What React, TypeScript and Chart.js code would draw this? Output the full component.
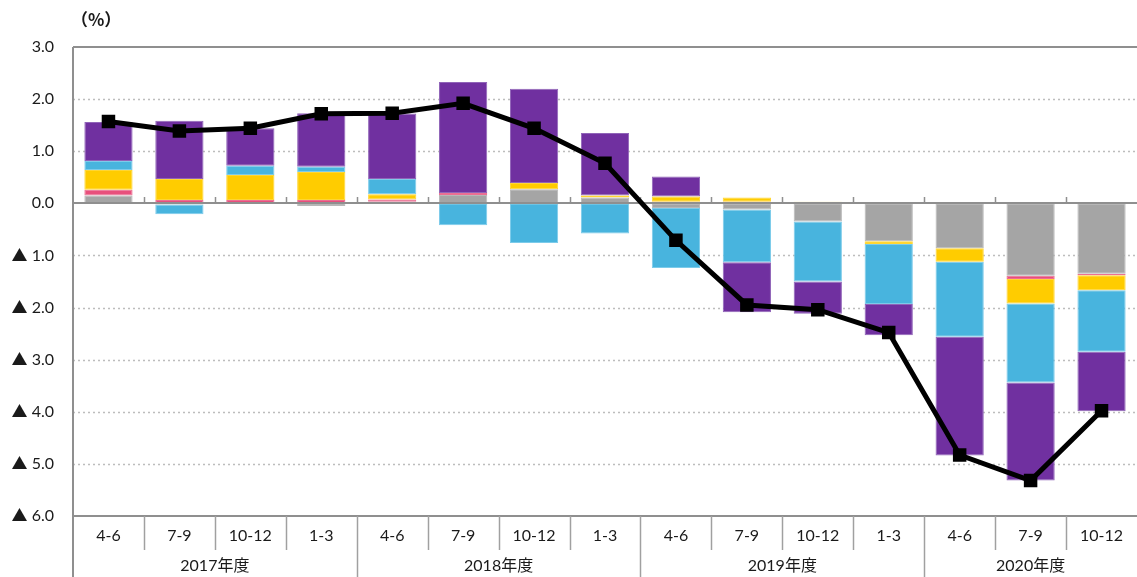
import React, { useEffect, useRef } from 'react';
import { Chart, registerables } from 'chart.js';

Chart.register(...registerables);

const quarters = ['4-6', '7-9', '10-12', '1-3', '4-6', '7-9', '10-12', '1-3', '4-6', '7-9', '10-12', '1-3', '4-6', '7-9', '10-12'];
const fiscalYears = ['2017年度', '2018年度', '2019年度', '2020年度'];
const quartersPerYear = [4, 4, 4, 3];

const grayValues = [0.15, -0.02, 0.0, -0.05, 0.03, 0.16, 0.27, 0.11, -0.09, -0.12, -0.35, -0.73, -0.86, -1.39, -1.35];
const pinkValues = [0.11, 0.065, 0.065, 0.065, 0.045, 0.04, 0.0, 0.0, 0.03, 0.03, 0.02, 0.01, 0.0, -0.06, -0.03];
const yellowValues = [0.38, 0.4, 0.48, 0.535, 0.1, 0.0, 0.12, 0.04, 0.1, 0.08, 0.01, -0.05, -0.26, -0.47, -0.29];
const blueValues = [0.17, -0.19, 0.175, 0.1, 0.29, -0.42, -0.76, -0.58, -1.15, -1.01, -1.15, -1.15, -1.44, -1.52, -1.18];
const purpleValues = [0.75, 1.12, 0.72, 1.03, 1.26, 2.13, 1.81, 1.2, 0.385, -0.96, -0.62, -0.6, -2.28, -1.88, -1.14];
const totalValues = [1.57, 1.39, 1.44, 1.72, 1.73, 1.92, 1.44, 0.77, -0.71, -1.95, -2.04, -2.48, -4.83, -5.32, -3.98];

const Y_MIN = -6;
const Y_MAX = 3;
const unitLabel = '（%）';

const FONT = 'Lato, "Noto Sans CJK JP", "Noto Sans", sans-serif';
const TEXT_COLOR = '#1a1a1a';
const AXIS_COLOR = '#8f8f8f';
const GRID_COLOR = '#bdbdbd';

const framePlugin = {
  id: 'frame',
  beforeDatasetsDraw(chart: any) {
    const { ctx, chartArea, scales } = chart;
    const y = scales.y;
    ctx.save();
    ctx.strokeStyle = GRID_COLOR;
    ctx.lineWidth = 1.5;
    ctx.setLineDash([2, 3]);
    for (let v = Y_MIN + 1; v < Y_MAX; v++) {
      if (v === 0) continue;
      const py = Math.round(y.getPixelForValue(v)) + 0.5;
      ctx.beginPath();
      ctx.moveTo(chartArea.left, py);
      ctx.lineTo(chartArea.right, py);
      ctx.stroke();
    }
    ctx.setLineDash([]);
    ctx.strokeStyle = AXIS_COLOR;
    ctx.lineWidth = 2;
    [Y_MAX, Y_MIN].forEach((v) => {
      const py = Math.round(y.getPixelForValue(v));
      ctx.beginPath();
      ctx.moveTo(chartArea.left, py);
      ctx.lineTo(chartArea.right, py);
      ctx.stroke();
    });
    ctx.restore();
  },
  afterDatasetDraw(chart: any, args: any) {
    // after the last bar dataset is drawn (gray, index 0), before the line
    if (args.index !== 0) return;
    const { ctx, chartArea, scales } = chart;
    const y = scales.y;
    const x = scales.x;
    ctx.save();
    ctx.strokeStyle = AXIS_COLOR;
    ctx.lineWidth = 2;
    const zy = Math.round(y.getPixelForValue(0));
    ctx.beginPath();
    ctx.moveTo(chartArea.left, zy);
    ctx.lineTo(chartArea.right, zy);
    ctx.stroke();
    const half = (x.getPixelForValue(1) - x.getPixelForValue(0)) / 2;
    ctx.lineWidth = 1.5;
    for (let i = 1; i < quarters.length; i++) {
      const px = Math.round(x.getPixelForValue(i) - half) + 0.5;
      ctx.beginPath();
      ctx.moveTo(px, zy);
      ctx.lineTo(px, zy - 6);
      ctx.stroke();
    }
    ctx.restore();
  },
  afterDraw(chart: any) {
    const { ctx, chartArea, scales, height } = chart;
    const x = scales.x;
    const half = (x.getPixelForValue(1) - x.getPixelForValue(0)) / 2;
    const base = chartArea.bottom;
    ctx.save();
    ctx.strokeStyle = AXIS_COLOR;
    ctx.lineWidth = 2;
    ctx.beginPath();
    ctx.moveTo(chartArea.left, chartArea.top);
    ctx.lineTo(chartArea.left, height);
    ctx.stroke();
    const yearEnds: number[] = [];
    let acc = 0;
    quartersPerYear.forEach((n) => {
      acc += n;
      yearEnds.push(acc);
    });
    ctx.strokeStyle = '#a0a0a0';
    ctx.lineWidth = 1.5;
    for (let i = 1; i < quarters.length; i++) {
      const px = Math.round(x.getPixelForValue(i) - half) + 0.5;
      const isYear = yearEnds.includes(i);
      ctx.beginPath();
      ctx.moveTo(px, base);
      ctx.lineTo(px, isYear ? height : base + 34);
      ctx.stroke();
    }
    ctx.fillStyle = TEXT_COLOR;
    ctx.font = `16px ${FONT}`;
    ctx.textAlign = 'center';
    ctx.textBaseline = 'middle';
    quarters.forEach((q, i) => {
      ctx.fillText(q, x.getPixelForValue(i), base + 20);
    });
    let start = 0;
    fiscalYears.forEach((label, k) => {
      const n = quartersPerYear[k];
      const first = x.getPixelForValue(start) - half;
      const last = x.getPixelForValue(start + n - 1) + half;
      ctx.fillText(label, (first + last) / 2, base + 50);
      start += n;
    });
    ctx.textAlign = 'left';
    ctx.font = `bold 17px "Noto Sans CJK JP", sans-serif`;
    ctx.fillText(unitLabel, chartArea.left - 2, 20);
    ctx.restore();
  },
};

export default function App() {
  const canvasRef = useRef<HTMLCanvasElement | null>(null);

  useEffect(() => {
    document.body.style.margin = '0';
    const canvas = canvasRef.current;
    if (!canvas) return;
    const bar = (label: string, data: number[], color: string, edge: string) => ({
      type: 'bar' as const,
      label,
      data,
      backgroundColor: color,
      borderColor: edge,
      borderWidth: 1,
      borderSkipped: false,
      barPercentage: 0.68,
      categoryPercentage: 1,
      order: 1,
      stack: 'contrib',
    });
    const chart = new Chart(canvas, {
      type: 'bar',
      data: {
        labels: quarters,
        datasets: [
          bar('gray', grayValues, '#a5a5a5', '#b8b8b8'),
          bar('pink', pinkValues, '#e8507c', '#ec6f93'),
          bar('yellow', yellowValues, '#ffcc00', '#ffd633'),
          bar('blue', blueValues, '#48b4de', '#7ccbea'),
          bar('purple', purpleValues, '#7030a0', '#9064b8'),
          {
            type: 'line' as const,
            label: 'total',
            data: totalValues,
            borderColor: '#000000',
            backgroundColor: '#000000',
            borderWidth: 5,
            pointStyle: 'rect',
            pointRadius: 6,
            pointHoverRadius: 6,
            tension: 0,
            order: 0,
            stack: 'line',
          } as any,
        ],
      },
      options: {
        animation: false,
        responsive: false,
        devicePixelRatio: 1,
        layout: { autoPadding: false, padding: { top: 47, right: 0, bottom: 0, left: 0 } },
        plugins: {
          legend: { display: false },
          tooltip: { enabled: false },
          title: { display: false },
        },
        scales: {
          x: {
            stacked: true,
            offset: true,
            grid: { display: false, drawTicks: false },
            border: { display: false },
            ticks: { display: false },
            afterFit: (scale: any) => {
              scale.height = 61;
            },
          },
          y: {
            stacked: true,
            min: Y_MIN,
            max: Y_MAX,
            grid: { display: false, drawTicks: false },
            border: { display: false },
            ticks: {
              stepSize: 1,
              padding: 19,
              color: TEXT_COLOR,
              font: { family: FONT, size: 16 },
              callback: (v: any) => {
                const n = Number(v);
                return n < 0 ? `▲ ${Math.abs(n).toFixed(1)}` : n.toFixed(1);
              },
            },
            afterFit: (scale: any) => {
              scale.width = 73;
            },
          },
        },
      },
      plugins: [framePlugin],
    });
    return () => chart.destroy();
  }, []);

  return (
    <div style={{ position: 'absolute', left: 0, top: 0, width: 1137, height: 577, background: '#ffffff' }}>
      <canvas ref={canvasRef} width={1137} height={577} style={{ display: 'block' }} />
    </div>
  );
}
